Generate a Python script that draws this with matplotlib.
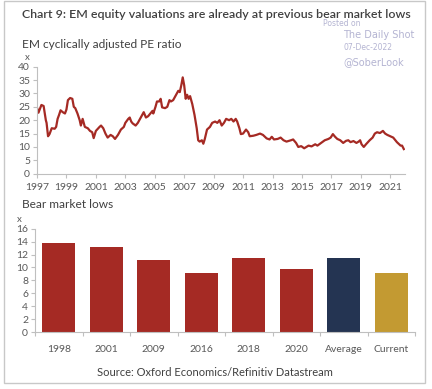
import matplotlib
matplotlib.use("Agg")
import matplotlib.pyplot as plt
from matplotlib.patches import Rectangle
import numpy as np

# ---- data: EM cyclically adjusted PE ratio (year, value) ----
years = [1997.0, 1997.1, 1997.3, 1997.45, 1997.6, 1997.65, 1997.75, 1997.85, 1998.0, 1998.2, 1998.3,
         1998.4, 1998.5, 1998.6, 1998.75, 1998.9, 1999.0, 1999.1, 1999.25, 1999.4, 1999.5, 1999.6,
         1999.75, 1999.9, 1999.98, 2000.1, 2000.25, 2000.45, 2000.6, 2000.75, 2000.85, 2001.0, 2001.25,
         2001.35, 2001.5, 2001.65, 2001.8, 2002.0, 2002.15, 2002.3, 2002.5, 2002.7, 2002.9, 2003.0,
         2003.2, 2003.3, 2003.4, 2003.5, 2003.7, 2003.85, 2004.1, 2004.25, 2004.4, 2004.55, 2004.7,
         2004.85, 2004.9, 2005.05, 2005.15, 2005.3, 2005.4, 2005.5, 2005.7, 2005.85, 2006.0, 2006.1,
         2006.25, 2006.4, 2006.6, 2006.7, 2006.8, 2006.9, 2007.0, 2007.1, 2007.2, 2007.3, 2007.4,
         2007.55, 2007.7, 2007.85, 2007.95, 2008.05, 2008.2, 2008.3, 2008.4, 2008.55, 2008.75, 2008.9,
         2009.1, 2009.25, 2009.4, 2009.55, 2009.7, 2009.85, 2010.05, 2010.2, 2010.35, 2010.5, 2010.6,
         2010.75, 2010.85, 2011.0, 2011.2, 2011.35, 2011.45, 2011.7, 2011.9, 2012.15, 2012.35, 2012.6,
         2012.8, 2012.95, 2013.1, 2013.35, 2013.55, 2013.75, 2013.95, 2014.25, 2014.4, 2014.6, 2014.75,
         2014.95, 2015.15, 2015.3, 2015.45, 2015.65, 2015.9, 2016.05, 2016.3, 2016.55, 2016.8, 2016.95,
         2017.1, 2017.25, 2017.4, 2017.6, 2017.8, 2018.0, 2018.15, 2018.3, 2018.5, 2018.7, 2018.85,
         2018.95, 2019.05, 2019.2, 2019.35, 2019.6, 2019.8, 2019.95, 2020.1, 2020.3, 2020.5, 2020.65,
         2020.8, 2021.0, 2021.2, 2021.35, 2021.45, 2021.6, 2021.7, 2021.8, 2021.92]
cape = [24.7, 22.8, 25.7, 25.3, 20.0, 19.0, 14.0, 14.8, 17.0, 16.8, 17.5,
        20.5, 22.0, 23.7, 23.0, 22.5, 24.0, 27.5, 28.3, 28.0, 25.0, 24.5,
        22.5, 20.0, 18.0, 20.5, 17.5, 17.0, 16.0, 15.5, 13.3, 16.0, 17.5,
        18.0, 17.0, 15.0, 13.5, 14.5, 14.0, 13.0, 14.5, 16.5, 17.5, 19.0,
        20.5, 21.0, 19.5, 18.8, 18.0, 19.0, 21.5, 23.0, 21.0, 21.5, 22.5,
        23.5, 22.5, 25.0, 27.0, 27.0, 28.0, 24.8, 24.5, 25.0, 27.5, 27.0,
        27.5, 29.0, 31.0, 30.5, 33.0, 36.0, 33.0, 28.0, 29.5, 28.0, 29.0,
        26.0, 22.0, 17.0, 12.5, 12.0, 12.5, 11.2, 13.0, 16.5, 17.5, 19.0,
        19.5, 19.0, 20.0, 18.0, 19.0, 20.5, 20.0, 20.5, 19.5, 20.5, 19.5,
        17.0, 14.8, 15.0, 16.5, 15.5, 14.0, 14.2, 14.5, 15.0, 14.5, 13.2,
        12.8, 13.8, 12.8, 13.0, 13.5, 12.5, 12.0, 12.5, 12.8, 11.5, 10.0,
        10.3, 9.5, 10.0, 10.5, 10.2, 11.0, 10.5, 11.5, 12.5, 13.0, 13.5,
        14.8, 13.8, 13.0, 12.5, 11.5, 12.3, 12.5, 11.8, 12.2, 11.5, 12.0,
        12.5, 11.0, 10.0, 11.0, 12.5, 13.5, 15.0, 15.5, 15.2, 16.0, 15.0,
        14.5, 14.0, 13.5, 12.5, 11.8, 11.0, 10.5, 10.5, 9.2]
line_ticks = [1997, 1999, 2001, 2003, 2005, 2007, 2009, 2011, 2013, 2015, 2017, 2019, 2021]

# ---- data: bear market lows ----
bar_labels = ["1998", "2001", "2009", "2016", "2018", "2020", "Average", "Current"]
bar_values = [13.8, 13.2, 11.1, 9.1, 11.4, 9.8, 11.4, 9.2]

RED = "#A52A24"
NAVY = "#243452"
GOLD = "#C39A32"
bar_colors = [RED] * 6 + [NAVY, GOLD]
TXT = "#595959"
AX = "#BFBFBF"

plt.rcParams['font.family'] = ['Lato', 'DejaVu Sans']

W, H = 432, 389
fig = plt.figure(figsize=(W / 100, H / 100), dpi=100)

def fx(px):
    return px / W

def fy(py):
    return 1 - py / H

# frame
fig.patches.append(Rectangle((fx(4), fy(383)), fx(425) - fx(4), fy(1) - fy(383),
                             transform=fig.transFigure, fill=False, edgecolor="#C8C8C8", lw=1.0))

fig.text(fx(22), fy(15), "Chart 9: EM equity valuations are already at previous bear market lows",
         fontsize=8.9, color="#404040", fontweight="semibold", va="center", ha="left")
fig.text(fx(22), fy(45), "EM cyclically adjusted PE ratio", fontsize=8.6, color="#404040",
         va="center", ha="left")
fig.text(fx(25), fy(57), "x", fontsize=7, color=TXT, va="center", ha="left")

# watermark
wm = "#B4B4D2"
fig.text(fx(323), fy(24), "Posted on", fontsize=5.5, color=wm, va="center", ha="left", family="DejaVu Sans")
fig.text(fx(343), fy(35), "The Daily Shot", fontsize=7, color=wm, va="center", ha="left", family="DejaVu Sans")
fig.text(fx(343), fy(47), "07-Dec-2022", fontsize=5.5, color=wm, va="center", ha="left", family="DejaVu Sans")
fig.text(fx(343), fy(62), "@SoberLook", fontsize=7, color=wm, va="center", ha="left", family="DejaVu Sans")

# ---- top line chart ----
ax1 = fig.add_axes([fx(37), fy(173.7), fx(405) - fx(37), fy(66.7) - fy(173.7)])
ax1.plot(years, cape, color=RED, lw=1.6, solid_joinstyle="round")
ax1.set_xlim(1997, 2022.0)
ax1.set_ylim(0, 40)
ax1.set_yticks(range(0, 41, 5))
ax1.set_xticks(line_ticks)
ax1.set_xticklabels([str(t) for t in line_ticks])
for s in ["top", "right"]:
    ax1.spines[s].set_visible(False)
for s in ["left", "bottom"]:
    ax1.spines[s].set_color(AX)
    ax1.spines[s].set_linewidth(0.8)
ax1.tick_params(axis="both", colors=AX, labelcolor=TXT, labelsize=7.5, length=3, width=0.8)
ax1.tick_params(axis="y", pad=2)
ax1.tick_params(axis="x", pad=4)
ax1.set_facecolor("none")

# ---- bottom bar chart ----
fig.text(fx(22), fy(205), "Bear market lows", fontsize=8.6, color="#404040", va="center", ha="left")
fig.text(fx(17), fy(219), "x", fontsize=7, color=TXT, va="center", ha="left")

ax2 = fig.add_axes([fx(35), fy(332), fx(415) - fx(35), fy(228.7) - fy(332)])
xpos = np.arange(len(bar_labels))
ax2.bar(xpos, bar_values, width=0.7, color=bar_colors)
ax2.set_xlim(-0.5, len(bar_labels) - 0.5)
ax2.set_ylim(0, 16)
ax2.set_yticks(range(0, 17, 2))
ax2.set_xticks(xpos)
ax2.set_xticklabels(bar_labels)
ax2.set_xticks(np.arange(-0.5, len(bar_labels), 1), minor=True)
for s in ["top", "right"]:
    ax2.spines[s].set_visible(False)
for s in ["left", "bottom"]:
    ax2.spines[s].set_color(AX)
    ax2.spines[s].set_linewidth(0.8)
ax2.tick_params(axis="x", which="major", length=0, labelcolor=TXT, labelsize=7.5, pad=9)
ax2.tick_params(axis="x", which="minor", length=3, color=AX, width=0.8)
ax2.tick_params(axis="y", colors=AX, labelcolor=TXT, labelsize=7.5, length=3, width=0.8, pad=2)

fig.text(fx(215), fy(373), "Source: Oxford Economics/Refinitiv Datastream", fontsize=8.0,
         color="#404040", va="center", ha="center")

fig.savefig("out.png", dpi=100)
